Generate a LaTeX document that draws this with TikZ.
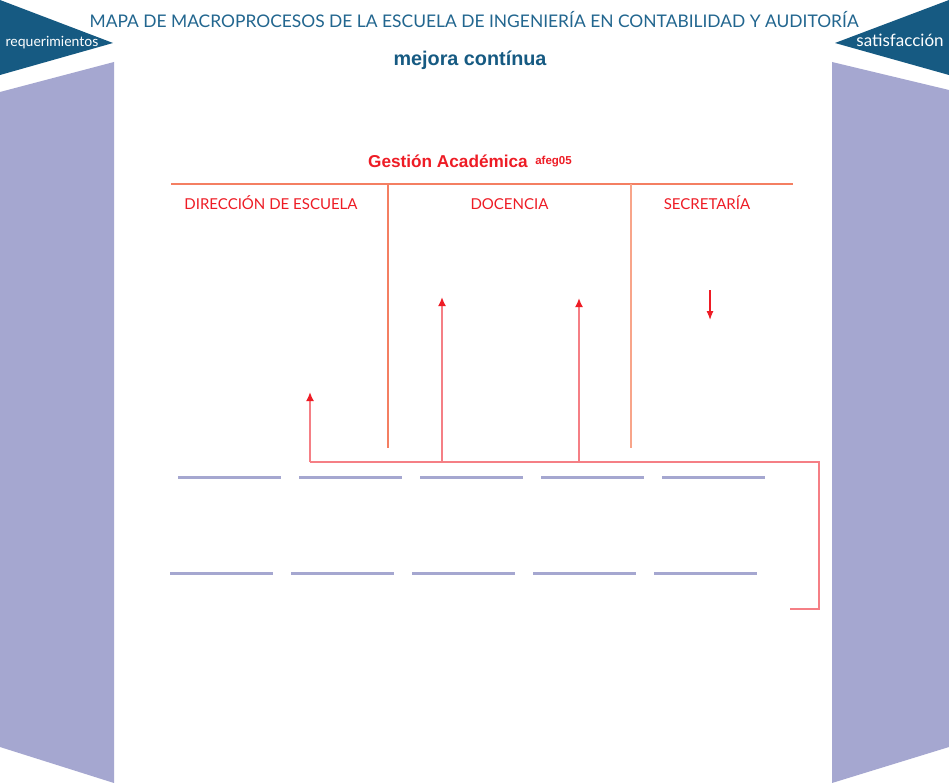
\documentclass[tikz,border=0pt]{standalone}
\usepackage{fontspec}
\setmainfont{Lato}
\newfontfamily\arialf{Liberation Sans}
\usetikzlibrary{arrows.meta}
\definecolor{darkblue}{HTML}{165A82}
\definecolor{titleblue}{HTML}{22668F}
\definecolor{lav}{HTML}{A5A7D0}
\definecolor{gred}{HTML}{EE1C25}
\definecolor{lineor}{HTML}{F47F62}
\definecolor{lineor2}{HTML}{F8A58A}
\definecolor{pinkline}{HTML}{F57F85}
\tikzset{
  bar/.style={draw=lav, line width=3pt},
  divline/.style={draw=lineor, line width=1.2pt},
  conn/.style={draw=pinkline, line width=1.8pt},
  uparrow/.style={conn, -{Latex[length=9pt,width=8pt,color=gred]}},
  areatext/.style={text=gred, anchor=base, inner sep=0pt, font=\fontsize{15}{17}\selectfont},
  lbl/.style={anchor=base, inner sep=0pt},
}
\begin{document}
\begin{tikzpicture}[x=1pt,y=-1pt]
\useasboundingbox (0,0) rectangle (949,783);
\fill[white] (0,0) rectangle (949,783);
% side panels
\fill[darkblue] (0,0) -- (113,43) -- (0,75) -- cycle;
\fill[lav] (0,92) -- (114,62) -- (114,783) -- (0,747) -- cycle;
\fill[darkblue] (949,0) -- (835,43) -- (949,75) -- cycle;
\fill[lav] (832,62) -- (949,90) -- (949,747) -- (832,783) -- cycle;
\node[lbl, text=white, font=\fontsize{14}{16}\selectfont] (req) at (52,47) {requerimientos};
\node[lbl, text=white, font=\fontsize{17}{19}\selectfont] (sat) at (900,47) {satisfacción};
% titles
\node[lbl, text=titleblue, font=\fontsize{17.4}{20}\selectfont] (title) at (474,28) {MAPA DE MACROPROCESOS DE LA ESCUELA DE INGENIERÍA EN CONTABILIDAD Y AUDITORÍA};
\node[lbl, text=darkblue, font=\arialf\bfseries\fontsize{19.8}{22}\selectfont] (mejora) at (470,66) {mejora contínua};
\node[lbl, text=gred, font=\arialf\bfseries\fontsize{17.2}{20}\selectfont] (gestion) at (448,168) {Gestión Académica};
\node[lbl, text=gred, font=\arialf\bfseries\fontsize{11.5}{13}\selectfont] (afeg) at (553.5,165) {afeg05};
% division lines
\coordinate (hl) at (171,184);
\coordinate (hr) at (793,184);
\coordinate (v1t) at (388,184);
\coordinate (v1b) at (388,448);
\coordinate (v2t) at (631,184);
\coordinate (v2b) at (631,448);
\draw[divline] (hl) -- (hr);
\draw[divline] (v1t) -- (v1b);
\draw[divline, draw=lineor2] (v2t) -- (v2b);
\node[areatext] (dir) at (271,210) {DIRECCIÓN DE ESCUELA};
\node[areatext] (doc) at (509.5,210) {DOCENCIA};
\node[areatext] (sec) at (707,210) {SECRETARÍA};
% connectors
\coordinate (c0) at (310,462);
\coordinate (c1) at (442,462);
\coordinate (c2) at (579,462);
\coordinate (c3) at (819,462);
\coordinate (c4) at (819,609);
\coordinate (c5) at (790,609);
\coordinate (a0) at (310,392);
\coordinate (a1) at (442,297);
\coordinate (a2) at (579,298);
\draw[conn] (c0) -- (c3) -- (c4) -- (c5);
\draw[uparrow] (c0) -- (a0);
\draw[uparrow] (c1) -- (a1);
\draw[uparrow] (c2) -- (a2);
\coordinate (d0) at (710,290);
\coordinate (d1) at (710,320);
\draw[draw=gred, line width=1.2pt, -{Latex[length=9pt,width=7pt]}] (d0) -- (d1);
% lavender bars
\foreach \i in {0,...,4}{
  \draw[bar] ({178+121*\i},477) -- ({281+121*\i},477);
  \draw[bar] ({170+121*\i},573) -- ({273+121*\i},573);
}
\end{tikzpicture}
\end{document}
